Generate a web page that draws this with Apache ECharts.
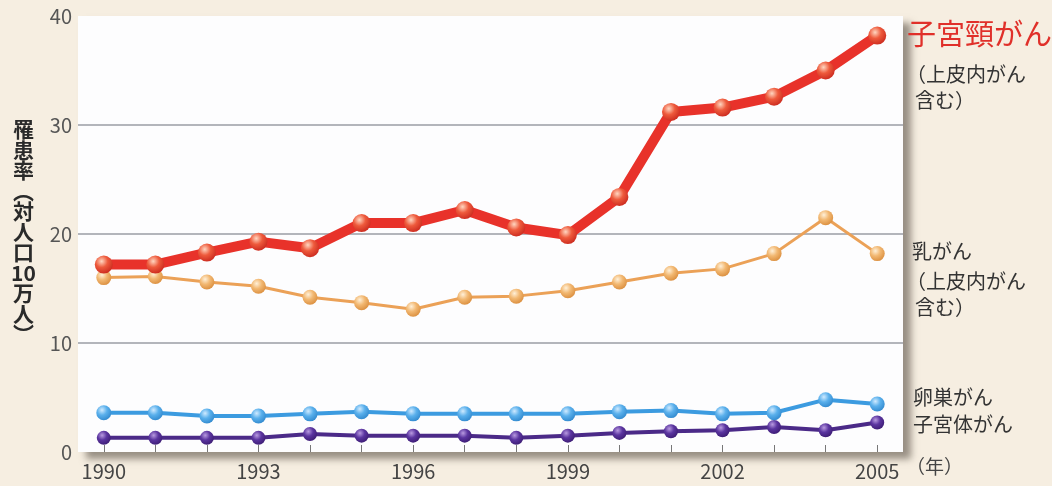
<!DOCTYPE html>
<html>
<head>
<meta charset="utf-8">
<script src="https://cdn.jsdelivr.net/npm/echarts@6/dist/echarts.min.js"></script>
<style>
html,body{margin:0;padding:0;background:#f6eee1;}
#c{width:1052px;height:486px;}
</style>
</head>
<body>
<div id="c"></div>
<script>
const years = ['1990','1991','1992','1993','1994','1995','1996','1997','1998','1999','2000','2001','2002','2003','2004','2005'];
const cervical = [17.2,17.2,18.3,19.3,18.7,21.0,21.0,22.2,20.6,19.9,23.4,31.2,31.6,32.6,35.0,38.2];
const breast   = [16.0,16.1,15.6,15.2,14.2,13.7,13.1,14.2,14.3,14.8,15.6,16.4,16.8,18.2,21.5,18.2];
const ovary    = [3.6,3.6,3.3,3.3,3.5,3.7,3.5,3.5,3.5,3.5,3.7,3.8,3.5,3.6,4.8,4.4];
const uterus   = [1.3,1.3,1.3,1.3,1.65,1.5,1.5,1.5,1.3,1.5,1.75,1.9,2.0,2.3,2.0,2.7];
const yTicks = [0,10,20,30,40];
const shownYears = ['1990','1993','1996','1999','2002','2005'];

const FONT = '"Noto Sans CJK JP","Noto Sans",sans-serif';

function ball(light, mid, dark){
  return {type:'radial', x:0.38, y:0.32, r:0.75, colorStops:[
    {offset:0, color:light},{offset:0.45, color:mid},{offset:1, color:dark}]};
}

const chart = echarts.init(document.getElementById('c'));
chart.setOption({
  backgroundColor:'#f6eee1',
  animation:false,
  textStyle:{fontFamily:FONT},
  grid:{left:78, right:149, top:16, bottom:34, show:true, backgroundColor:'#fdfdfe', borderWidth:0,
        shadowColor:'rgba(90,80,70,0.6)', shadowBlur:7, shadowOffsetX:8, shadowOffsetY:7},
  xAxis:{
    type:'category', data:years, boundaryGap:true,
    axisLine:{show:false},
    axisTick:{show:true, inside:true, length:7, alignWithLabel:true, interval:0, lineStyle:{color:'#777', width:1}},
    axisLabel:{margin:9, fontSize:20, color:'#444', fontFamily:FONT,
      interval:function(i, v){ return shownYears.indexOf(v) >= 0; }}
  },
  yAxis:{
    type:'value', min:0, max:40, interval:10,
    axisLine:{show:false}, axisTick:{show:false},
    axisLabel:{margin:6, fontSize:20, color:'#555', fontFamily:FONT,
      formatter:function(v){ return yTicks.indexOf(v) >= 0 ? String(v) : ''; }},
    splitLine:{show:true, lineStyle:{color:['transparent','#9a9ca4','#9a9ca4','#9a9ca4','transparent'], width:1.5}}
  },
  series:[
    {name:'子宮体がん', type:'line', data:uterus, z:3, symbol:'circle', symbolSize:14,
      lineStyle:{color:'#4b2a88', width:4},
      itemStyle:{color:ball('#b89ae0','#5b35a0','#3a1a70')}},
    {name:'卵巣がん', type:'line', data:ovary, z:4, symbol:'circle', symbolSize:15,
      lineStyle:{color:'#3c9be0', width:4},
      itemStyle:{color:ball('#cfeaff','#5ab0ec','#2e86cc')}},
    {name:'乳がん', type:'line', data:breast, z:5, symbol:'circle', symbolSize:15,
      lineStyle:{color:'#eba157', width:3},
      itemStyle:{color:ball('#fff0d8','#f2b872','#d98b3a')}},
    {name:'子宮頸がん', type:'line', data:cervical, z:6, symbol:'circle', symbolSize:18,
      lineStyle:{color:'#e8322a', width:10},
      itemStyle:{color:ball('#ffd6c0','#ee5a3c','#c8261c')}}
  ],
  graphic:[
    {type:'text', left:11, top:119, style:{text:'罹\n患\n率\n︵\n対\n人\n口\n10\n万\n人\n︶', font:'bold 21px '+FONT, fill:'#2a2a2a', lineHeight:20.5, textAlign:'center', width:22}},
    {type:'text', left:907, top:19, style:{text:'子宮頸がん', font:'29px '+FONT, fill:'#e0302a'}},
    {type:'text', left:906, top:61, style:{text:'（上皮内がん\n  含む）', font:'20px '+FONT, fill:'#333', lineHeight:26}},
    {type:'text', left:912, top:241, style:{text:'乳がん', font:'20px '+FONT, fill:'#333'}},
    {type:'text', left:906, top:268, style:{text:'（上皮内がん\n  含む）', font:'20px '+FONT, fill:'#333', lineHeight:26}},
    {type:'text', left:913, top:384, style:{text:'卵巣がん\n子宮体がん', font:'20px '+FONT, fill:'#333', lineHeight:27}},
    {type:'text', left:906, top:457, style:{text:'（年）', font:'19px '+FONT, fill:'#444'}}
  ]
});
</script>
</body>
</html>
